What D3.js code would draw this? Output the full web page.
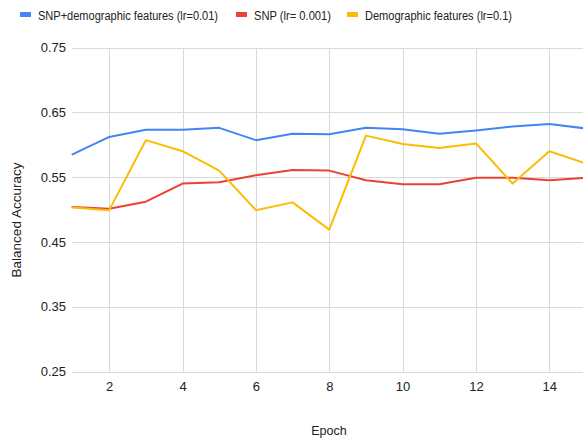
<!DOCTYPE html>
<html><head><meta charset="utf-8">
<script src="https://cdn.jsdelivr.net/npm/d3@7"></script>
<style>body{margin:0;background:#fff;} svg{display:block;font-family:"Liberation Sans",Arial,sans-serif;}</style>
</head><body>
<svg id="c" width="583" height="441"></svg>
<script>
const epochs = [1,2,3,4,5,6,7,8,9,10,11,12,13,14,15];
const seriesNames = ["SNP+demographic features (lr=0.01)", "SNP (lr= 0.001)", "Demographic features (lr=0.1)"];
const seriesColors = ["#4285F4", "#EA4335", "#FBBC04"];
const snpDemo = [0.585,0.612,0.623,0.623,0.626,0.607,0.617,0.616,0.626,0.624,0.617,0.622,0.628,0.632,0.625];
const snp = [0.504,0.501,0.512,0.540,0.542,0.553,0.561,0.560,0.545,0.539,0.539,0.549,0.549,0.545,0.549];
const demo = [0.503,0.499,0.607,0.590,0.560,0.499,0.511,0.469,0.614,0.601,0.595,0.602,0.540,0.590,0.571];
const yTicks = [0.25,0.35,0.45,0.55,0.65,0.75];
const xTicks = [2,4,6,8,10,12,14];
const allSeries = [snpDemo, snp, demo];

const svg = d3.select("#c");
const x = d3.scaleLinear().domain([1,15]).range([72.5,586]);
const y = d3.scaleLinear().domain([0.25,0.75]).range([371.5,47.5]);

// gridlines
svg.append("g").selectAll("line").data(xTicks).join("line")
  .attr("x1",d=>Math.round(x(d))+0.5).attr("x2",d=>Math.round(x(d))+0.5)
  .attr("y1",y(0.75)).attr("y2",y(0.25)).attr("stroke","#d9d9d9").attr("stroke-width",1);
svg.append("g").selectAll("line").data(yTicks).join("line")
  .attr("x1",72).attr("x2",583)
  .attr("y1",d=>Math.round(y(d))+0.5).attr("y2",d=>Math.round(y(d))+0.5)
  .attr("stroke","#d9d9d9").attr("stroke-width",1);

// axis labels
const yAxis = d3.axisLeft(y).tickValues(yTicks).tickFormat(d3.format(".2f")).tickSize(0).tickPadding(6);
const gy = svg.append("g").attr("transform","translate(72,0)").call(yAxis);
gy.select(".domain").remove();
gy.selectAll("text").attr("font-size",13).attr("fill","#222").attr("font-family","'Liberation Sans',Arial,sans-serif");

const xAxis = d3.axisBottom(x).tickValues(xTicks).tickFormat(d3.format("d")).tickSize(0).tickPadding(10);
const gx = svg.append("g").attr("transform",`translate(0,${y(0.25)})`).call(xAxis);
gx.select(".domain").remove();
gx.selectAll("text").attr("font-size",13).attr("fill","#222").attr("font-family","'Liberation Sans',Arial,sans-serif");

// lines
const line = d3.line().x((d,i)=>x(epochs[i])).y(d=>y(d));
svg.append("defs").append("clipPath").attr("id","clip").append("rect")
  .attr("x",60).attr("y",0).attr("width",523).attr("height",441);
const lg = svg.append("g").attr("clip-path","url(#clip)");
[1,2,0].forEach(i=>{
  lg.append("path").datum(allSeries[i]).attr("d",line)
    .attr("fill","none").attr("stroke",seriesColors[i]).attr("stroke-width",2)
    .attr("stroke-linejoin","round").attr("stroke-linecap","round");
});

// legend
const legendX = [20, 236, 347];
const legendW = [180, 77, 147];
const leg = svg.append("g");
seriesNames.forEach((n,i)=>{
  leg.append("rect").attr("x",legendX[i]).attr("y",12).attr("width",11).attr("height",5)
    .attr("fill",seriesColors[i]);
  leg.append("text").attr("x",legendX[i]+18).attr("y",20).attr("font-size",12.5)
    .attr("textLength",legendW[i]).attr("lengthAdjust","spacingAndGlyphs")
    .attr("fill","#222").text(n);
});

// axis titles
svg.append("text").attr("transform",`translate(21,220) rotate(-90)`)
  .attr("text-anchor","middle").attr("font-size",13.5).attr("fill","#222").text("Balanced Accuracy");
svg.append("text").attr("x",329).attr("y",435).attr("text-anchor","middle")
  .attr("font-size",12.5).attr("fill","#222").text("Epoch");
</script>
</body></html>
